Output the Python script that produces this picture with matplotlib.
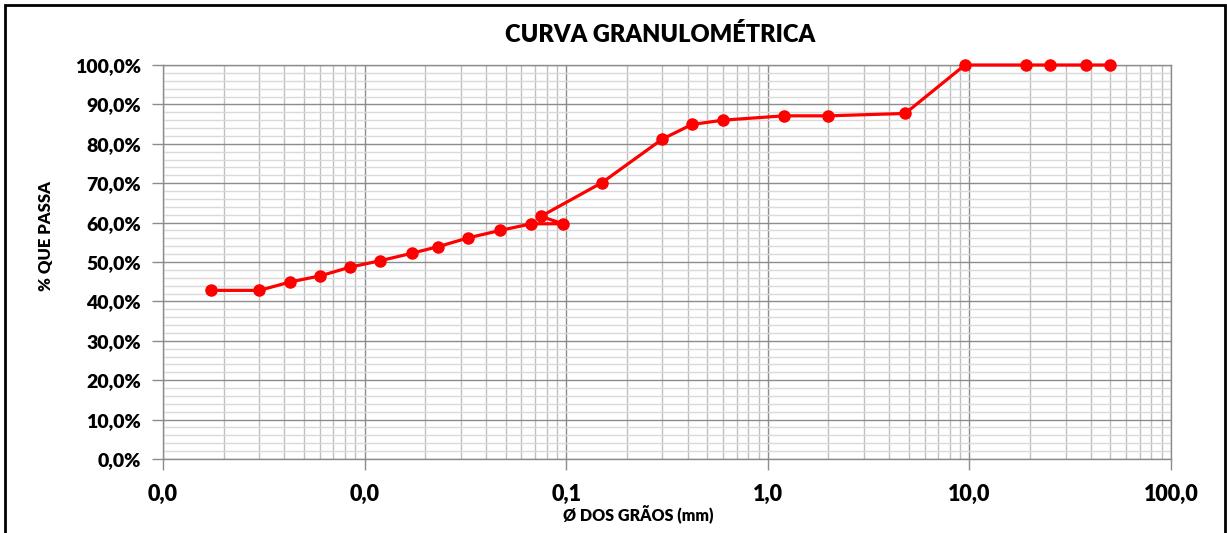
import matplotlib
matplotlib.use("Agg")
import matplotlib.pyplot as plt
from matplotlib.ticker import FuncFormatter, LogLocator, MultipleLocator
from matplotlib.patches import Rectangle

plt.rcParams['font.family'] = ['Lato', 'DejaVu Sans']

# diâmetro dos grãos (mm) e % que passa, na ordem da planilha
diametro = [50.0, 38.0, 25.0, 19.0, 9.5, 4.8, 2.0, 1.2, 0.6, 0.42, 0.3, 0.15,
            0.075, 0.096, 0.0672, 0.0469, 0.0325, 0.0232, 0.0171, 0.0119,
            0.00848, 0.00604, 0.00425, 0.00301, 0.00174]
passa = [100.0, 100.0, 100.0, 100.0, 100.0, 87.7, 87.1, 87.1, 86.0, 84.9, 81.2, 70.1,
         61.6, 59.7, 59.7, 58.0, 56.1, 53.9, 52.2, 50.3,
         48.7, 46.5, 44.9, 42.8, 42.8]

x_ticks = [0.001, 0.01, 0.1, 1, 10, 100]


def fmt_x(v, pos):
    return f"{v:.1f}".replace('.', ',')


def fmt_y(v, pos):
    return f"{v:.1f}%".replace('.', ',')


fig = plt.figure(figsize=(12.27, 5.33), dpi=100)
ax = fig.add_axes([163 / 1227, 1 - 459 / 533, (1171 - 163) / 1227, (459 - 65) / 533])

ax.plot(diametro, passa, color='#ff0000', lw=2.3, marker='o', ms=8,
        markerfacecolor='#ff0000', markeredgecolor='#ff0000', zorder=5, clip_on=False)

ax.set_xscale('log')
ax.set_xlim(0.001, 100)
ax.set_ylim(0, 100)
ax.xaxis.set_minor_locator(LogLocator(base=10, subs=range(2, 10), numticks=10))
ax.set_xticks(x_ticks)
ax.xaxis.set_major_formatter(FuncFormatter(fmt_x))
ax.xaxis.set_minor_formatter(FuncFormatter(lambda v, p: ''))
ax.yaxis.set_major_locator(MultipleLocator(10))
ax.yaxis.set_minor_locator(MultipleLocator(2))
ax.yaxis.set_major_formatter(FuncFormatter(fmt_y))

ax.grid(which='major', color='#8c8c8c', lw=1.0)
ax.grid(which='minor', axis='x', color='#bfbfbf', lw=1.0)
ax.grid(which='minor', axis='y', color='#dadada', lw=1.0)
ax.set_axisbelow(True)

for s in ax.spines.values():
    s.set_color('#8c8c8c')
    s.set_linewidth(1.0)

ax.tick_params(which='major', length=8, width=1, color='#8c8c8c', direction='out')
ax.tick_params(which='minor', length=0)
ax.tick_params(axis='y', labelsize=14, pad=8)
ax.tick_params(axis='x', labelsize=15.5, pad=10)
for lab in ax.get_xticklabels() + ax.get_yticklabels():
    lab.set_fontweight('heavy')

fig.text(660 / 1227, 1 - 35 / 533, 'CURVA GRANULOMÉTRICA', ha='center', va='center',
         fontsize=17, fontweight='heavy')
fig.text(46 / 1227, 1 - 236 / 533, '% QUE PASSA', ha='center', va='center',
         rotation=90, fontsize=12, fontweight='heavy')
fig.text(638 / 1227, 1 - 515 / 533, 'Ø DOS GRÃOS (mm)', ha='center', va='center',
         fontsize=11.5, fontweight='heavy')

# moldura externa do gráfico
fig.patches.append(Rectangle((5 / 1227, -0.01), (1225 - 5) / 1227, 1 - 5 / 533 + 0.01,
                             transform=fig.transFigure, fill=False, edgecolor='black', lw=2))

fig.savefig('out.png', dpi=100)
